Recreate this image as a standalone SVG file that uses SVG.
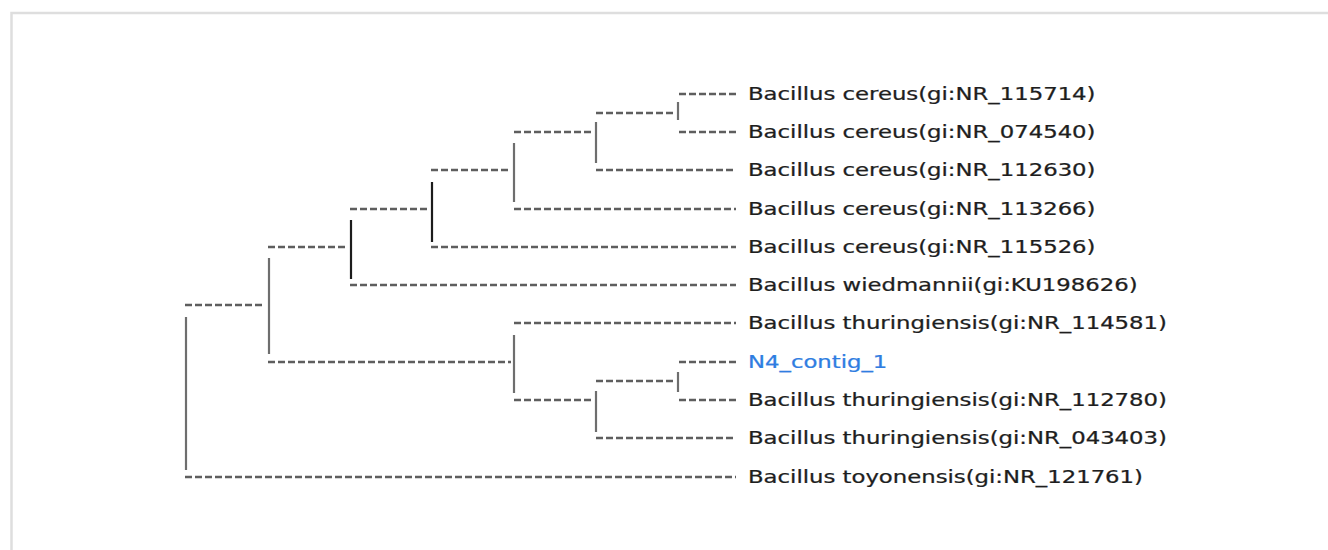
<svg xmlns="http://www.w3.org/2000/svg" width="1328" height="550" viewBox="0 0 1328 550">
  <style>
    .frame { fill: none; stroke: #dedede; stroke-width: 2.5; }
    .branch { stroke: #5e5e5e; stroke-width: 2.4; stroke-dasharray: 7 3; fill: none; }
    .stem { stroke: #6e6e6e; stroke-width: 2.2; fill: none; }
    .stem.dark { stroke: #1c1c1c; }
    .label { font-family: "DejaVu Sans", Verdana, sans-serif; font-size: 17px; fill: #1e1e1e; stroke: #1e1e1e; stroke-width: 0.25; }
    .query { fill: #2f7de1; stroke: #2f7de1; }
  </style>
  <rect width="1328" height="550" fill="#ffffff"/>
  <!-- panel border (top and left edges) -->
  <path class="frame" d="M11.5 550 V13 H1328"/>

  <!-- tree branches -->
  <g id="connectors">
    <!-- leaf edges -->
    <line class="branch" x1="679" y1="94" x2="736" y2="94"/>
    <line class="branch" x1="679" y1="132" x2="736" y2="132"/>
    <line class="branch" x1="596" y1="170" x2="736" y2="170"/>
    <line class="branch" x1="514" y1="209" x2="736" y2="209"/>
    <line class="branch" x1="431" y1="247" x2="736" y2="247"/>
    <line class="branch" x1="350" y1="285" x2="736" y2="285"/>
    <line class="branch" x1="514" y1="323" x2="736" y2="323"/>
    <line class="branch" x1="679" y1="362" x2="736" y2="362"/>
    <line class="branch" x1="679" y1="400" x2="736" y2="400"/>
    <line class="branch" x1="596" y1="438" x2="736" y2="438"/>
    <line class="branch" x1="185" y1="477" x2="736" y2="477"/>
    <!-- internal edges -->
    <line class="branch" x1="596" y1="113" x2="676" y2="113"/>
    <line class="branch" x1="514" y1="132" x2="591" y2="132"/>
    <line class="branch" x1="431" y1="170" x2="511" y2="170"/>
    <line class="branch" x1="350" y1="209" x2="429" y2="209"/>
    <line class="branch" x1="268" y1="247" x2="348" y2="247"/>
    <line class="branch" x1="185" y1="305" x2="264" y2="305"/>
    <line class="branch" x1="268" y1="362" x2="511" y2="362"/>
    <line class="branch" x1="514" y1="400" x2="591" y2="400"/>
    <line class="branch" x1="596" y1="381" x2="676" y2="381"/>
    <!-- node stems -->
    <line class="stem" x1="678" y1="102" x2="678" y2="120"/>
    <line class="stem" x1="596" y1="122" x2="596" y2="163"/>
    <line class="stem" x1="514" y1="143" x2="514" y2="202"/>
    <line class="stem dark" x1="432" y1="182" x2="432" y2="242"/>
    <line class="stem dark" x1="351" y1="220" x2="351" y2="279"/>
    <line class="stem" x1="269" y1="258" x2="269" y2="354"/>
    <line class="stem" x1="514" y1="335" x2="514" y2="393"/>
    <line class="stem" x1="678" y1="372" x2="678" y2="392"/>
    <line class="stem" x1="596" y1="391" x2="596" y2="432"/>
    <line class="stem" x1="186" y1="317" x2="186" y2="470"/>
  </g>

  <!-- leaf labels -->
  <g id="leaf-nr115714"><text class="label" transform="translate(748 100) scale(1.34 1)">Bacillus cereus(gi:NR_115714)</text></g>
  <g id="leaf-nr074540"><text class="label" transform="translate(748 138) scale(1.34 1)">Bacillus cereus(gi:NR_074540)</text></g>
  <g id="leaf-nr112630"><text class="label" transform="translate(748 176) scale(1.34 1)">Bacillus cereus(gi:NR_112630)</text></g>
  <g id="leaf-nr113266"><text class="label" transform="translate(748 215) scale(1.34 1)">Bacillus cereus(gi:NR_113266)</text></g>
  <g id="leaf-nr115526"><text class="label" transform="translate(748 253) scale(1.34 1)">Bacillus cereus(gi:NR_115526)</text></g>
  <g id="leaf-ku198626"><text class="label" transform="translate(748 291) scale(1.34 1)">Bacillus wiedmannii(gi:KU198626)</text></g>
  <g id="leaf-nr114581"><text class="label" transform="translate(748 329) scale(1.34 1)">Bacillus thuringiensis(gi:NR_114581)</text></g>
  <g id="leaf-n4-contig-1"><text class="label query" transform="translate(748 368) scale(1.34 1)">N4_contig_1</text></g>
  <g id="leaf-nr112780"><text class="label" transform="translate(748 406) scale(1.34 1)">Bacillus thuringiensis(gi:NR_112780)</text></g>
  <g id="leaf-nr043403"><text class="label" transform="translate(748 444) scale(1.34 1)">Bacillus thuringiensis(gi:NR_043403)</text></g>
  <g id="leaf-nr121761"><text class="label" transform="translate(748 483) scale(1.34 1)">Bacillus toyonensis(gi:NR_121761)</text></g>
</svg>
